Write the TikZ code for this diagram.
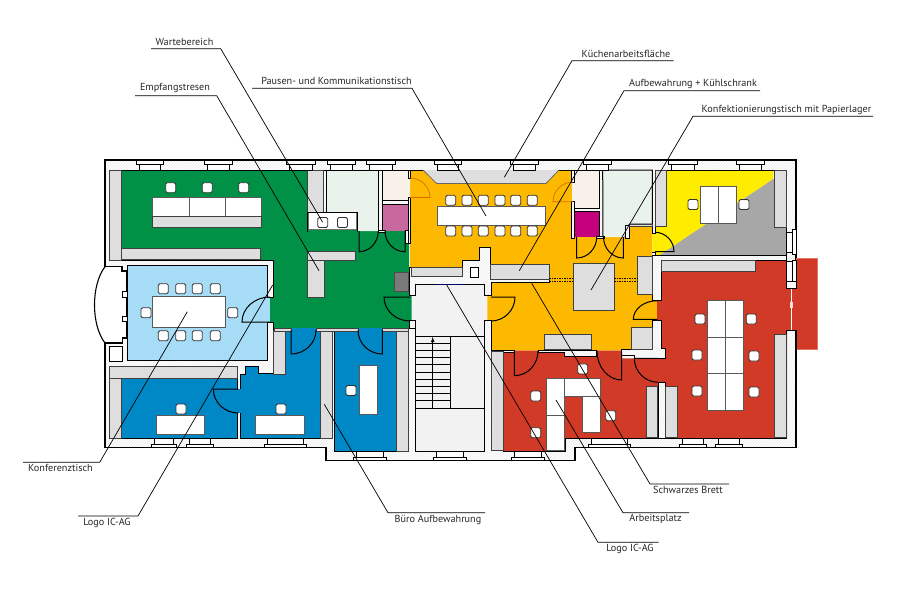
\documentclass[tikz,border=0pt]{standalone}
\usepackage{fontspec}
\setmainfont{PT Sans}
\usetikzlibrary{calc,patterns}
\definecolor{gruen}{HTML}{009046}
\definecolor{orangeraum}{HTML}{FDB900}
\definecolor{hellblau}{HTML}{A6DCF6}
\definecolor{blauraum}{HTML}{0088C6}
\definecolor{rotraum}{HTML}{D13A26}
\definecolor{gelbraum}{HTML}{FFED00}
\definecolor{grauraum}{HTML}{A7A7A7}
\definecolor{mintraum}{HTML}{E9F2EB}
\definecolor{beigeraum}{HTML}{F7F1EA}
\definecolor{rosaraum}{HTML}{C9679F}
\definecolor{magentaraum}{HTML}{C4007E}
\definecolor{flur}{HTML}{F2F2F2}
\definecolor{einbau}{HTML}{DEDEDE}
\tikzset{
    wand/.style={draw=black,line width=1pt,line join=miter},
    mauer/.style={wand,preaction={fill=white},pattern=north east lines,pattern color=black!9},
    einbauten/.style={fill=einbau,draw=black!75,line width=0.8pt},
    tisch/.style={fill=white,draw=black!65,line width=0.8pt},
    stuhl/.style={fill=white,draw=black!80,line width=0.8pt,rounded corners=1.5pt},
    fenster/.style={fill=white,draw=black,line width=0.8pt},
    tuer/.style={draw=black,line width=1pt},
    leader/.style={draw=black,line width=0.7pt},
    lbl/.style={font=\fontsize{10.2}{12}\selectfont,text=black!85,inner sep=0pt}
}
\begin{document}
\begin{tikzpicture}[x=1pt,y=-1pt]
    \useasboundingbox (0,0) rectangle (900,600);

    %building shell
    \path[mauer,line width=1.4pt] (105,160) -- (796,160) -- (796,447.7) -- (575,447.7) -- (575,460.7)
        -- (326,460.7) -- (326,447.7) -- (105,447.7) -- (105,343) -- (122.7,343) -- (122.7,338) -- (127,338)
        -- (127,271) -- (122,271) -- (122,266.7) -- (105,266.7) -- cycle;
    \draw[wand,line width=1.1pt] (105,266.7) .. controls (91,285) and (91,325) .. (105,343);
    \draw[fenster] (109.3,346.7) rectangle (122.7,361);
    \foreach \a in {291.7,316}
    {
        \draw[fenster] (122,\a) rectangle (127,\a+5.5);
    }

    %room colours
    \fill[gruen] (122,170) -- (409,170) -- (409,295.5) -- (411.7,295.5) -- (411.7,320.5) -- (409,320.5)
        -- (409,328) -- (273.3,328) -- (273.3,322) -- (270,322) -- (270,298) -- (273.3,298) -- (273.3,260) -- (122,260) -- cycle;
    \fill[orangeraum] (410,170) -- (573,170) -- (573,237) -- (626,237) -- (629,226) -- (652,226) -- (652,300.7)
        -- (657.3,300.7) -- (657.3,319.5) -- (652,319.5) -- (652,350.7) -- (491.7,350.7) -- (491.7,320.5)
        -- (487.3,320.5) -- (487.3,296) -- (491.7,296) -- (491.7,282) -- (410,282) -- cycle;
    \fill[hellblau] (127,265) rectangle (267,360.7);
    \fill[hellblau] (267,298) rectangle (270,322);
    \fill[blauraum] (121.7,378) rectangle (237,438);
    \fill[blauraum] (237,389) rectangle (240,413);
    \fill[blauraum] (240,374) -- (245,374) -- (245,366) -- (258,366) -- (258,374) -- (285.7,374) -- (285.7,328)
        -- (320,328) -- (320,438) -- (240,438) -- cycle;
    \fill[blauraum] (334.7,328) rectangle (396.5,451);
    \fill[rotraum] (661.7,260) -- (787,260) -- (787,438) -- (665,438) -- (665,382.3) -- (658.3,382.3) -- (658.3,438)
        -- (565,438) -- (565,451) -- (503.3,451) -- (503.3,350.7) -- (621.7,350.7) -- (621.7,358.3) -- (665,358.3)
        -- (665,348) -- (661.7,348) -- cycle;
    \fill[rotraum] (657.3,300.7) rectangle (662,319.5);
    \filldraw[rotraum,draw=rotraum!70!white,line width=0.6pt] (796,258.3) rectangle (817.3,349.3);
    \fill[rotraum] (786.5,288) rectangle (797,330);
    \fill[flur] (415,284) rectangle (484,451);
    \fill[flur] (484,296) rectangle (487.3,320.5);
    \fill[flur] (411.7,296) rectangle (415,320.5);
    \fill[gelbraum] (655,170) -- (773.3,170) -- (773.3,179) -- (660,255) -- (655,255) -- (655,252) -- (652.3,252) -- (652.3,233) -- (655,233) -- cycle;
    \fill[grauraum] (773.3,179) -- (786,179) -- (786,255) -- (660,255) -- cycle;

    %small rooms along the corridor
    \foreach \a/\b/\c/\d in {323.6/170/326.7/212,378.3/170/382.3/230,382.3/200.7/408.3/204}
    {
        \path[mauer] (\a,\b) rectangle (\c,\d);
    }
    \filldraw[wand,fill=mintraum] (378.3,231) -- (378.3,170) -- (326.7,170) -- (326.7,212) -- (357,212) -- (357,231);
    \filldraw[wand,fill=beigeraum] (410,178) -- (408.3,178) -- (408.3,170) -- (382.3,170) -- (382.3,200.7) -- (408.3,200.7) -- (408.3,197) -- (410,197);
    \filldraw[wand,fill=rosaraum] (382.5,231) -- (382.5,204) -- (408,204) -- (408,231);
    \filldraw[wand,fill=beigeraum] (572,182) -- (574.7,182) -- (574.7,170) -- (599.3,170) -- (599.3,208.3) -- (574.7,208.3) -- (574.7,201) -- (572,201);
    \filldraw[wand,fill=magentaraum] (574.7,237) -- (574.7,211.7) -- (599.3,211.7) -- (599.3,237);
    \filldraw[wand,fill=mintraum] (603,237) -- (602.7,170) -- (652.3,170) -- (652.3,224) -- (629.3,224) -- (625,237);

    %wall pieces
    \path[mauer] (409,267) -- (462,267) -- (462,260) -- (479,260) -- (479,247.7) -- (490,247.7) -- (490,264)
        -- (549.3,264) -- (549.3,282.3) -- (491.7,282.3) -- (491.7,295.5) -- (484,295.5) -- (484,284) -- (415,284)
        -- (415,295.5) -- (409,295.5) -- cycle;
    \path[mauer] (409,320.5) -- (415,320.5) -- (415,328) -- (409,328) -- cycle;
    \path[mauer] (652.3,255) -- (786,255) -- (786,260) -- (661.7,260) -- (661.7,300.7) -- (652.3,300.7) -- cycle;
    \path[mauer] (621.7,349.3) -- (652,349.3) -- (652,320.5) -- (661.7,320.5) -- (661.7,348) -- (665,348)
        -- (665,358.3) -- (634,358.3) -- (634,355) -- (621.7,355) -- cycle;
    \path[mauer] (538,350) -- (596.7,350) -- (596.7,356) -- (564,356) -- (564,352) -- (538,352) -- cycle;
    \path[mauer] (491.7,350) rectangle (514.3,352);
    \foreach \a/\b/\c/\d in {408.3/170/410.7/178,408.3/197/410.7/243,571.7/170/574.7/182,571.7/201/574.7/238.3,
        596.7/236/604/238.5,625.3/225/629.3/238.3,378/230/385/232.3,405/230/408.3/243,658.3/382.3/665/438}
    {
        \path[mauer] (\a,\b) rectangle (\c,\d);
    }
    \draw[wand] (109.3,260) -- (273.3,260) -- (273.3,297) -- (267,297) -- (267,265) -- (127,265) -- (127,360.7)
        -- (267,360.7) -- (267,322) -- (273.3,322) -- (273.3,373) -- (258,373) -- (258,366) -- (245,366) -- (245,374)
        -- (240,374) -- (240,389);
    \draw[wand] (240,413) -- (240,438) -- (320,438) -- (320,330);
    \draw[wand] (237,389) -- (237,366) -- (109.3,366) -- (109.3,438) -- (237,438) -- (237,413);
    \draw[wand] (334.7,330) -- (334.7,451) -- (408,451) -- (408,330);
    \draw[wand] (122,170) -- (307,170);
    \draw[wand] (410.7,170) -- (571.7,170);
    \draw[wand] (655,170) -- (786,170) -- (786,255);
    \draw[wand] (409,320.5) -- (415,320.5) -- (415,451) -- (484,451) -- (484,320.5) -- (491.7,320.5) -- (491.7,451);
    \draw[wand] (503.3,451) -- (565,451) -- (565,438) -- (658.3,438);
    \draw[wand] (665,438) -- (786.7,438) -- (786.7,330) -- (796,330);
    \draw[wand] (661.7,260) -- (786,260);
    \draw[wand] (652.3,224) -- (652.3,233) -- (655,233) -- (655,226.7);
    \draw[wand] (652.3,252) -- (655,252) -- (655,255);
    \draw[line width=1.4pt] (796,330) -- (796,447.7);
    \draw[fenster] (470,267) rectangle (478.7,277);
    \draw[white,line width=0.8pt] (791.3,288) -- (791.3,330);
    \fill[white!85!rotraum] (789.8,302) rectangle (792.8,308);

    %built-in furniture
    \foreach \a/\b/\c/\d in {109.3/170/121.7/260,121.7/248.3/260/259.3,307/170/323.6/212,307.3/251.7/355/260,307.3/260/324/297.7,
        109.3/366/237/378,109.3/378/121.7/438,273.3/330/285.7/374,320/330/332.7/438,396.5/330/408/451,
        274/328/291/331,316/328/358.3/331,382.3/328/408/331,
        411/267.7/462/276.7,490/264/549.3/279.3,573.3/263.7/614/310.3,637.7/256.7/652.3/294,631/327.5/652.3/349.5,544.3/334.3/591/349.5,
        655/170/666/226.7,774.3/170/786/227,661.7/260/755/271.7,774/334/786.7/437.7,646/386.7/657.7/437.7,665.7/386.7/677.3/437.7,
        491.7/351.7/503.3/450.7,629.3/224/652.3/226.5}
    {
        \draw[einbauten] (\a,\b) rectangle (\c,\d);
    }
    \filldraw[fill=black!52,draw=black!70,line width=0.7pt] (394.3,272.3) rectangle (408.3,291.7);
    \fill[einbau] (423,170) -- (559,170) -- (546,183.5) -- (436.7,183.5) -- cycle;
    \draw[black!60,line width=0.8pt] (423,170) -- (436.7,183.5) -- (546,183.5) -- (559,170);
    \filldraw[fill=white,draw=black!55,line width=0.7pt] (308,212.5) rectangle (356,229);
    \draw[wand] (307,232) -- (307,212) -- (357,212) -- (357,232);

    %desks
    \foreach \a/\b/\c/\d in {152.7/197.7/189/216,189/197.7/225/216,225/197.7/261/216,152.7/296.7/225/327.7,
        156/415.7/204.3/434.3,255.7/415.7/304/434.3,359.3/365.7/377.6/414.5,437.3/206.7/545.7/225.7,
        546/378.7/564.3/415,546/415/564.3/450.7,564.3/378.7/600/396.7,582.7/396.7/600/432.7,
        707.3/300.7/725.7/337,725.7/300.7/743.3/337,707.3/337/725.7/373.3,725.7/337/743.3/373.3,707.3/373.3/725.7/410,725.7/373.3/743.3/410}
    {
        \draw[tisch] (\a,\b) rectangle (\c,\d);
    }
    \draw[einbauten] (152.7,216) rectangle (261,227.7);

    %chairs
    \foreach \x/\y in {170.7/187.7,207.3/187.7,243.7/187.7,163.3/288.7,180.7/288.7,197.3/288.7,215.3/288.7,
        163.3/335.7,180.7/335.7,197.3/335.7,215.3/335.7,146/312.7,232.7/312.7,181/409,281/409,351/390.5,
        322.7/222.5,342.5/222.5,450.7/200.3,467/200.3,483.3/200.3,500/200.3,515.7/200.3,532.3/200.3,
        450.7/231,467/231,483.3/231,500/231,515.7/231,532.3/231,693/204.5,744/204.5,
        582.7/368.9,535.7/396,610.7/415.7,535.7/432.7,700/319,751.3/319,697/355,754/356,697/391,754/392}
    {
        \draw[stuhl] (\x-5,\y-5) rectangle ++(10,10);
    }
    \draw[tisch] (700,186.7) rectangle (718,223);
    \draw[tisch] (718,186.7) rectangle (736,223);

    %stairs
    \draw[wand] (415,336) -- (484,336);
    \draw[wand] (415,408) -- (484,408);
    \draw[wand] (450,336) -- (450,408);
    \foreach \i in {1,...,9}
    {
        \draw[black,line width=0.8pt] (415,336+7.2*\i) -- (450,336+7.2*\i);
    }
    \draw[black,line width=0.8pt,-latex] (432.7,408) -- (432.7,337);
    \draw[black!30!blue!60!black,line width=1pt] (436.7,284) -- (463,284);

    %doors
    \foreach \hx/\hy/\lx/\ly/\ex/\ey in {270/322/242/322/270/297,238.3/389/213.3/389/238.3/413,291/330/291/354/316/330,
        382.3/330/382.3/354/358/330,410/297/384/297/410/321,491/297/515/297/491/321,359/231/359/251.7/378.3/231,
        405/231/405/251.7/385/231,576.7/237/576.7/258/596.7/237,623.3/237/623.3/258/603.5/237,655/251.7/674/251.7/655/232.3,
        657.3/319.3/633.3/319.3/657.3/300.7,514.3/351/514.3/375.7/538/351,621.7/351/621.7/380/597/351,658.3/358.3/634.3/358.3/658.3/382.3}
    {
        \draw[tuer] (\hx,\hy) -- (\lx,\ly)
            .. controls ($(\lx,\ly)+0.552*(\ex,\ey)-0.552*(\hx,\hy)$) and ($(\ex,\ey)+0.552*(\lx,\ly)-0.552*(\hx,\hy)$) .. (\ex,\ey);
    }
    \foreach \hx/\hy/\lx/\ly/\ex/\ey in {410/197.5/430/197.5/410/178,573/201.7/553/201.7/573/182}
    {
        \draw[tuer,draw=orange!85!black,line width=0.7pt] (\hx,\hy) -- (\lx,\ly)
            .. controls ($(\lx,\ly)+0.552*(\ex,\ey)-0.552*(\hx,\hy)$) and ($(\ex,\ey)+0.552*(\lx,\ly)-0.552*(\hx,\hy)$) .. (\ex,\ey);
    }

    %windows
    \foreach \a/\b in {136/163,204/232.7,286.7/315.7,327/355,366.7/395,434/461.7,510/538,583/611,668/697,736/764}
    {
        \draw[fenster] (\a+3,164) rectangle (\b-3,170);
        \draw[fenster] (\a,160.5) rectangle (\b,164);
    }
    \foreach \a/\b in {151.7/176.7,186/213,264/306,588/630.7,679/706.7,715/742.7}
    {
        \draw[fenster] (\a+3,438) rectangle (\b-3,444);
        \draw[fenster] (\a,444) rectangle (\b,447.7);
    }
    \foreach \a/\b in {353/386.7,433/466.7,511/544}
    {
        \draw[fenster] (\a+3,451) rectangle (\b-3,457);
        \draw[fenster] (\a,457) rectangle (\b,460.7);
    }
    \foreach \a/\b/\c/\d in {786/232.7/792.7/252.7,792.7/229/796/254,786/261.7/792.7/281.7,792.7/260/796/285,786/281.7/796/288.3}
    {
        \draw[fenster] (\a,\b) rectangle (\c,\d);
    }

    %dotted marks beside the table
    \foreach \y in {278.5,281.5}
    {
        \draw[black,line width=0.8pt,dash pattern=on 1.5pt off 1pt] (549.3,\y) -- (573.3,\y);
        \draw[black,line width=0.8pt,dash pattern=on 1.5pt off 1pt] (614,\y) -- (637.7,\y);
    }

    %labels and their leaders
    \foreach \nm/\txt/\tx/\ty/\ax/\ay/\bx/\ex/\ey in {
        warte/Wartebereich/184.5/42.3/151/48.7/220.7/322.7/222.3,
        empfang/Empfangstresen/175/88.3/135/95.7/216.7/319/270.7,
        pausen/Pausen- und Kommunikationstisch/336.5/80.7/252/88.3/412/486/216,
        kueche/Küchenarbeitsfläche/626/54/673.7/60.7/572/504.3/177.3,
        aufbew/Aufbewahrung + Kühlschrank/693/84/760/90.7/624/519.3/270.7,
        konfekt/Konfektionierungstisch mit Papierlager/786.5/110/873/116.3/693/591/290,
        konferenz/Konferenztisch/60.5/468.3/23/462.3/99.7/187.3/311.7,
        logoa/Logo IC-AG/107/522.7/78/516/138/272.7/285,
        buero/Büro Aufbewahrung/438/520/485/512.7/388/324.3/404.3,
        brett/Schwarzes Brett/688/490/729/484/650/531.7/283.3,
        arbeit/Arbeitsplatz/655.5/519.3/689/512.7/623/556/400,
        logob/Logo IC-AG/630/549.3/658.7/542.3/598/446.7/285}
    {
        \node[lbl] (\nm) at (\tx,\ty) {\txt};
        \coordinate (\nm A) at (\ax,\ay);
        \coordinate (\nm B) at (\bx,\ay);
        \coordinate (\nm C) at (\ex,\ey);
        \draw[leader] (\nm A) -- (\nm B) -- (\nm C);
    }
\end{tikzpicture}
\end{document}
